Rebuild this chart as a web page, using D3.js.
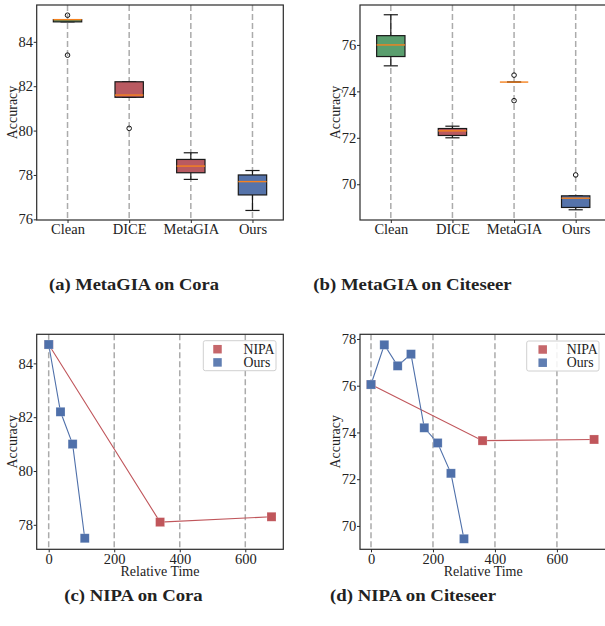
<!DOCTYPE html>
<html>
<head>
<meta charset="utf-8">
<script src="https://cdn.jsdelivr.net/npm/d3@7"></script>
<style>
  body { margin: 0; background: #fff; }
  svg { display: block; }
  text { font-family: "Liberation Serif", "Times New Roman", serif; fill: #222; }
</style>
</head>
<body>
<script>
// ---------------- DATA ----------------
const boxCategories = ["Clean", "DICE", "MetaGIA", "Ours"];
const boxColors = ["#5a9e6e", "#b95a61", "#b95a61", "#5573aa"];

// MetaGIA on Cora
const coraLow = [84.9, 81.5, 77.8, 76.4];
const coraQ1 = [84.9, 81.5, 78.1, 77.1];
const coraMed = [85.0, 81.6, 78.4, 77.7];
const coraQ3 = [85.0, 82.2, 78.7, 78.0];
const coraHigh = [85.0, 82.2, 79.0, 78.2];
const coraOutliers = [[85.2, 83.4], [80.1], [], []];
const coraBoxTicks = [76, 78, 80, 82, 84];

// MetaGIA on Citeseer
const citeLow = [75.1, 72.0, 74.4, 68.9];
const citeQ1 = [75.5, 72.1, 74.4, 69.0];
const citeMed = [76.0, 72.3, 74.4, 69.4];
const citeQ3 = [76.4, 72.4, 74.4, 69.5];
const citeHigh = [77.3, 72.5, 74.4, 69.5];
const citeOutliers = [[], [], [74.7, 73.6], [70.4]];
const citeBoxTicks = [70, 72, 74, 76];

// NIPA on Cora
const coraNipaTime = [0, 340, 680];
const coraNipaAcc = [84.7, 78.1, 78.3];
const coraOursTime = [0, 36, 73, 110];
const coraOursAcc = [84.7, 82.2, 81.0, 77.5];
const coraLineTicks = [78, 80, 82, 84];

// NIPA on Citeseer
const citeNipaTime = [0, 360, 720];
const citeNipaAcc = [76.05, 73.65, 73.7];
const citeOursTime = [0, 43, 86, 129, 172, 215, 258, 300];
const citeOursAcc = [76.05, 77.75, 76.85, 77.35, 74.2, 73.55, 72.25, 69.45];
const citeLineTicks = [70, 72, 74, 76, 78];

const timeTicks = [0, 200, 400, 600];
const seriesNames = ["NIPA", "Ours"];
const seriesColors = ["#c0565b", "#4f70aa"];

const captions = ["(a) MetaGIA on Cora", "(b) MetaGIA on Citeseer", "(c) NIPA on Cora", "(d) NIPA on Citeseer"];

// ---------------- DRAWING ----------------
const svg = d3.select("body").append("svg").attr("width", 605).attr("height", 626);

const FRAME = "#2a2a2a";
const GRID = "#ababab";
const TICKFONT = 14.5;

function frame(g, r) {
  g.append("rect").attr("x", r.l).attr("y", r.t).attr("width", r.r - r.l).attr("height", r.b - r.t)
    .attr("fill", "none").attr("stroke", FRAME).attr("stroke-width", 1.2);
}

function yAxis(g, r, y, ticks) {
  const ax = g.append("g").attr("transform", `translate(${r.l},0)`)
    .call(d3.axisLeft(y).tickValues(ticks).tickSizeInner(3).tickSizeOuter(0).tickPadding(0.8).tickFormat(d3.format("d")));
  ax.select(".domain").remove();
  ax.attr("font-family", null);
  ax.selectAll("line").attr("stroke", FRAME).attr("stroke-width", 1);
  ax.selectAll("text").attr("font-size", TICKFONT).attr("font-family", "Liberation Serif").attr("fill", "#222");
}

function xAxis(g, r, x, ticks, fmt) {
  const ax = g.append("g").attr("transform", `translate(0,${r.b})`)
    .call(d3.axisBottom(x).tickValues(ticks).tickSizeInner(3).tickSizeOuter(0).tickPadding(1.2).tickFormat(fmt));
  ax.select(".domain").remove();
  ax.attr("font-family", null);
  ax.selectAll("line").attr("stroke", FRAME).attr("stroke-width", 1);
  ax.selectAll("text").attr("font-size", TICKFONT).attr("font-family", "Liberation Serif").attr("fill", "#222");
}

function vgrid(g, r, xs) {
  g.append("g").selectAll("line").data(xs).join("line")
    .attr("x1", d => d).attr("x2", d => d).attr("y1", r.t).attr("y2", r.b)
    .attr("stroke", GRID).attr("stroke-width", 1.5).attr("stroke-dasharray", "6,3");
}

function yLabel(g, xBase, yc, text) {
  g.append("text").attr("transform", `translate(${xBase},${yc}) rotate(-90)`)
    .attr("text-anchor", "middle").attr("font-size", 14).text(text);
}

function boxPanel(r, yDomain, ticks, low, q1, med, q3, high, outliers, labelX) {
  const g = svg.append("g");
  const x = d3.scaleLinear().domain([0.5, 4.5]).range([r.l, r.r]);
  const y = d3.scaleLinear().domain(yDomain).range([r.b, r.t]);
  const idx = boxCategories.map((d, i) => i + 1);
  vgrid(g, r, idx.map(i => x(i)));
  const bw = (x(2) - x(1)) * 0.46;
  const cw = bw / 2;
  boxCategories.forEach((c, i) => {
    const cx = x(i + 1);
    const bg = g.append("g");
    const ln = (x1, x2, y1, y2) => bg.append("line").attr("x1", x1).attr("x2", x2).attr("y1", y1).attr("y2", y2)
      .attr("stroke", "#1a1a1a").attr("stroke-width", 1.2);
    ln(cx, cx, y(low[i]), y(q1[i]));
    ln(cx, cx, y(q3[i]), y(high[i]));
    ln(cx - cw / 2, cx + cw / 2, y(low[i]), y(low[i]));
    ln(cx - cw / 2, cx + cw / 2, y(high[i]), y(high[i]));
    bg.append("rect").attr("x", cx - bw / 2).attr("width", bw)
      .attr("y", y(q3[i])).attr("height", Math.max(0, y(q1[i]) - y(q3[i])))
      .attr("fill", boxColors[i])
      .attr("stroke", "#1a1a1a").attr("stroke-width", 1.2);
    bg.append("line").attr("x1", cx - bw / 2).attr("x2", cx + bw / 2).attr("y1", y(med[i])).attr("y2", y(med[i]))
      .attr("stroke", "#f5821f").attr("stroke-width", 1.4);
    bg.selectAll("circle").data(outliers[i]).join("circle")
      .attr("cx", cx).attr("cy", d => y(d)).attr("r", 2.3)
      .attr("fill", "none").attr("stroke", "#111").attr("stroke-width", 1);
  });
  frame(g, r);
  yAxis(g, r, y, ticks);
  const xb = d3.scalePoint().domain(boxCategories).range([x(1), x(4)]);
  xAxis(g, r, xb, boxCategories, d => d);
  yLabel(g, labelX, (r.t + r.b) / 2, "Accuracy");
}

function linePanel(r, xDomain, yDomain, ticks, series, labelX, legend) {
  const g = svg.append("g");
  const x = d3.scaleLinear().domain(xDomain).range([r.l, r.r]);
  const y = d3.scaleLinear().domain(yDomain).range([r.b, r.t]);
  vgrid(g, r, timeTicks.map(t => x(t)));
  const line = d3.line().x(d => x(d[0])).y(d => y(d[1]));
  const ms = 9;
  series.forEach((s, k) => {
    const pts = s.t.map((t, i) => [t, s.a[i]]);
    g.append("path").attr("d", line(pts)).attr("fill", "none").attr("stroke", seriesColors[k]).attr("stroke-width", 1.1);
    g.append("g").selectAll("rect").data(pts).join("rect")
      .attr("x", d => x(d[0]) - ms / 2).attr("y", d => y(d[1]) - ms / 2)
      .attr("width", ms).attr("height", ms)
      .attr("fill", seriesColors[k])
      .attr("stroke", "#fff").attr("stroke-opacity", 0.35).attr("stroke-width", 0.6);
  });
  frame(g, r);
  yAxis(g, r, y, ticks);
  xAxis(g, r, x, timeTicks, d3.format("d"));
  g.append("text").attr("x", (r.l + r.r) / 2).attr("y", r.b + 27).attr("text-anchor", "middle")
    .attr("font-size", 14).text("Relative Time");
  yLabel(g, labelX, (r.t + r.b) / 2, "Accuracy");
  const lg = g.append("g");
  lg.append("rect").attr("x", legend.x).attr("y", legend.y).attr("width", legend.w).attr("height", 30)
    .attr("rx", 2).attr("fill", "#fff").attr("fill-opacity", 0.85).attr("stroke", "#d0d0d0").attr("stroke-width", 1);
  seriesNames.forEach((n, k) => {
    const cy = legend.y + 8.5 + k * 13.2;
    lg.append("rect").attr("x", legend.mx - 4.25).attr("y", cy - 4.25).attr("width", 8.5).attr("height", 8.5)
      .attr("fill", seriesColors[k]).attr("fill-opacity", 0.9);
    lg.append("text").attr("x", legend.tx).attr("y", cy + 4.6).attr("font-size", 13.8).text(n);
  });
}

boxPanel({ l: 36.7, r: 283.3, t: 5, b: 220 }, [75.97, 85.66], coraBoxTicks,
  coraLow, coraQ1, coraMed, coraQ3, coraHigh, coraOutliers, 16.5);
boxPanel({ l: 360, r: 606.5, t: 5, b: 220 }, [68.46, 77.72], citeBoxTicks,
  citeLow, citeQ1, citeMed, citeQ3, citeHigh, citeOutliers, 339.5);

linePanel({ l: 36.7, r: 283.3, t: 334.3, b: 549.3 }, [-36.6, 716], [77.09, 85.08], coraLineTicks,
  [{ t: coraNipaTime, a: coraNipaAcc }, { t: coraOursTime, a: coraOursAcc }], 16.5,
  { x: 203.3, y: 340.7, w: 72.7, mx: 217.5, tx: 243.5 });
linePanel({ l: 360, r: 606.5, t: 334.3, b: 549.3 }, [-35.5, 760], [69.0, 78.2], citeLineTicks,
  [{ t: citeNipaTime, a: citeNipaAcc }, { t: citeOursTime, a: citeOursAcc }], 339.5,
  { x: 526.7, y: 341, w: 72.3, mx: 542.7, tx: 566.7 });

const capPos = [
  { x: 49, y: 290, w: 170 },
  { x: 313.3, y: 290, w: 198.4 },
  { x: 64.3, y: 601, w: 138.4 },
  { x: 330, y: 601, w: 166 }
];
captions.forEach((c, i) => {
  svg.append("text").attr("x", capPos[i].x).attr("y", capPos[i].y)
    .attr("font-size", 16.5).attr("font-weight", "bold")
    .attr("textLength", capPos[i].w).attr("lengthAdjust", "spacingAndGlyphs")
    .text(c);
});
</script>
</body>
</html>
